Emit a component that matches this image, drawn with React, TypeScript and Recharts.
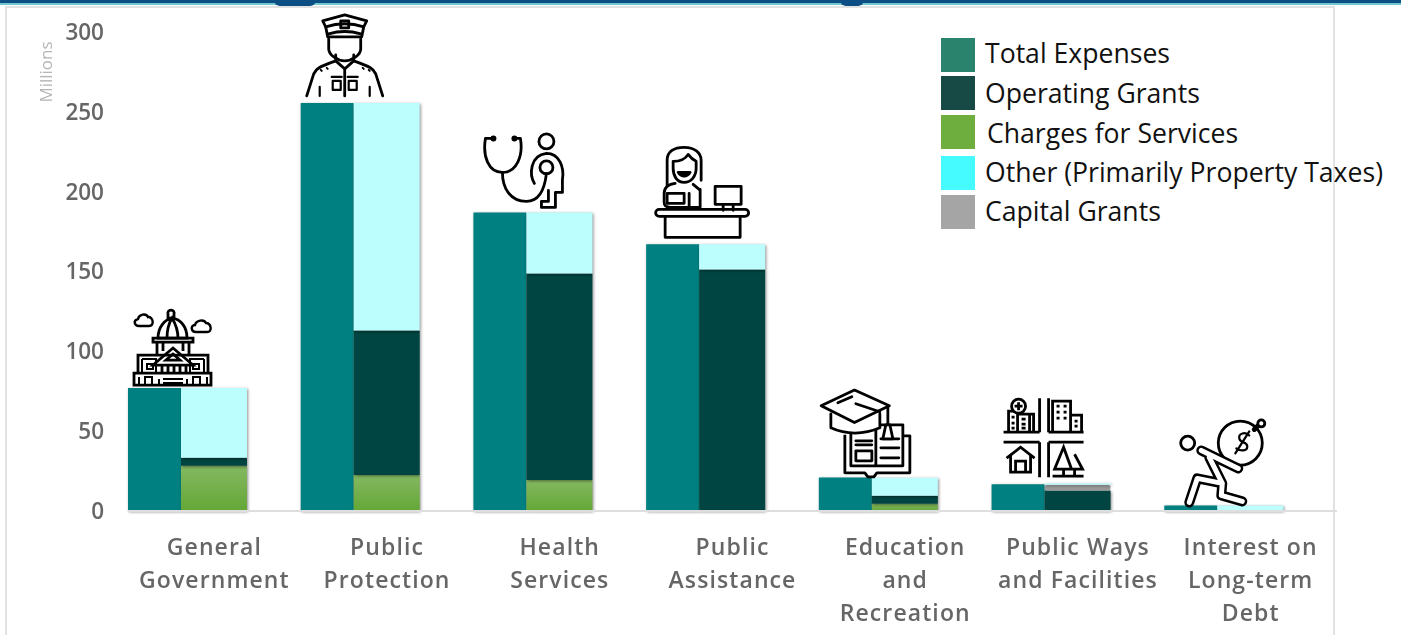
import { Bar, BarChart, LabelList, XAxis, YAxis } from 'recharts';

const categories = [
  'General\nGovernment',
  'Public\nProtection',
  'Health\nServices',
  'Public\nAssistance',
  'Education\nand\nRecreation',
  'Public Ways\nand Facilities',
  'Interest on\nLong-term\nDebt',
];
const totalExpenses = [77, 255.6, 187, 167, 21, 16.8, 3.5];
const chargesForServices = [28.3, 22.5, 19.4, 0, 4.5, 0.6, 0];
const operatingGrants = [5, 90.5, 129.4, 151.3, 5, 12.2, 0];
const capitalGrants = [0, 0, 0, 0, 0, 3.6, 0];
const otherRevenue = [43.7, 142.6, 38.2, 15.7, 11.3, 1, 3.5];
const yTicks = [0, 50, 100, 150, 200, 250, 300];

const legendNames = ['Total Expenses', 'Operating Grants', 'Charges for Services', 'Other (Primarily Property Taxes)', 'Capital Grants'];
const legendColors = ['#2a836d', '#174a45', '#6dae3f', '#46fbff', '#a5a5a5'];
const legendTops = [38, 76, 115, 156, 195];
const legendTextShift = [-2, 0, 1, -1, -1];

const data = categories.map((category, i) => ({
  category,
  total: totalExpenses[i],
  charges: chargesForServices[i],
  operating: operatingGrants[i],
  capital: capitalGrants[i],
  other: otherRevenue[i],
}));

const FONT = '"Open Sans", sans-serif';
const barShadow = { filter: 'drop-shadow(1px 1px 1.5px rgba(0,0,0,0.45))' };

const line = { fill: 'none', stroke: '#000', strokeWidth: 2.8, strokeLinecap: 'round', strokeLinejoin: 'round' } as const;

const CapitolIcon = () => (
  <g {...line} strokeLinecap="butt" strokeLinejoin="miter">
    <path d="M6 16c-5 0-6-6-1-7 1-5 8-6 10-2 5-1 7 9 1 9z" strokeWidth={2.4} />
    <path d="M63 22c-5 0-6-7-1-7 1-5 9-6 11-2 5 0 7 9 1 9z" strokeWidth={2.4} />
    <path d="M38 0a3 3 0 0 1 3 4v4h-6V4a3 3 0 0 1 3-4zM25 28c0-11 7-19 14-20 9 1 15 9 15 20zM34 28c0-8 2-15 5-20 3 5 6 12 6 20z" />
    <path d="M20 28h40v4H20zM24 32v13M30 32v9M50 32v9M56 32v13" />
    <path d="M5 45h70v18H5zM1 63h77v12H1z" />
    <path d="M20 55l20-17 20 17zM33 50l7-6 7 6z" />
    <path d="M9 49h14v14M9 49v14M14 54h6v5h-6zM71 49H57v14M71 49v14M60 54h6v5h-6z" strokeWidth={2} />
    <path d="M29 55v8M35 55v8M41 55v8M47 55v8M53 55v8" />
    <path d="M6 75v-8M12 75v-8h7v8M26 75v-6M30 69h20M30 73h20M54 75v-6M60 75v-8h7v8M74 75v-8" strokeWidth={2} />
  </g>
);

const PoliceIcon = () => (
  <g {...line} fill="none">
    <path d="M17 6L39 0l22 6-3 6-2 10H22l-2-10z" />
    <path d="M20 12c12-4 26-4 38 0M23 19c10-3 22-3 32 0" />
    <path d="M35 6h8v7h-8z" />
    <path d="M23 24v10c0 6 9 12 16 12s16-6 16-12V24" />
    <path d="M30 40v6l9 8 9-8v-6M1 81l7-22c2-5 5-7 22-13M77 81l-7-22c-2-5-5-7-22-13M39 54v27" />
    <path d="M14 72v9M64 72v9M27 66h8v9h-8zM43 66h8v9h-8zM26 62h10M42 62h10" strokeWidth={2.2} />
    <path d="M15 55l1 1M21 53l1 1M57 53l1 1M63 55l1 1" strokeWidth={2} />
  </g>
);

const HealthIcon = () => (
  <g {...line}>
    <circle cx={11} cy={6} r={1.6} fill="#000" />
    <circle cx={32} cy={6} r={1.6} fill="#000" />
    <path d="M10 6H3C0 24 6 40 20 40s21-16 18-34h-6" />
    <path d="M20 40c0 16 8 29 24 29 12 0 18-10 20-28" />
    <circle cx={64} cy={35} r={6.5} />
    <circle cx={64} cy={9} r={7.5} />
    <path d="M52 51c-5-8-5-28 12-30 13 0 18 14 16 26v13h-7v15H59v-6h7V58" />
  </g>
);

const ReceptionIcon = () => (
  <g {...line}>
    <path d="M10 40V14C10 5 17 1 27 1s17 5 17 13v20" />
    <path d="M16 15c6 0 12-2 15-7 3 4 6 6 8 7v7c0 8-5 14-12 14s-11-6-11-14z" />
    <path d="M21 26c3 5 9 5 12 0z" fill="#000" />
    <path d="M18 37c-7 1-11 4-11 10v9c0 3 2 5 6 5h30V43" />
    <path d="M10 47h17v10H10zM36 38l6 5M32 61V47" />
    <path d="M58 40h26v18H58zM66 58v6M76 58v6" />
    <path d="M2 63h86a3 3 0 0 1 0 7H2a3 3 0 0 1 0-7zM8 70v21h75V70" />
  </g>
);

const EducationIcon = () => (
  <g {...line}>
    <path d="M24 46v38h20l3 4h6l3-4h33V47h-7" strokeLinecap="butt" />
    <path d="M30 40v37h25V40M55 77V36h27v41z" strokeLinecap="butt" />
    <path d="M35 52h16M35 56h16M35 62h16v10H35zM60 50h18M60 59h18M60 69h18" />
    <path d="M10 25v14c15 7 33 7 49 0V25" fill="#fff" />
    <path d="M33.6 1.3L68.5 17 33.6 33.7.3 17z" fill="#fff" />
    <path d="M17 14l14-6M35 15l24 8M67 18v17" />
    <path d="M62 50l3-14h4l3 14z" fill="#fff" />
  </g>
);

const CityIcon = () => (
  <g {...line} strokeLinecap="butt" strokeLinejoin="miter">
    <path d="M0 35h36M45 35h35M0 45h36M45 45h35M36 1v34M45 1v34M36 45v35M45 45v35" />
    <path d="M5 35V14h8M26 35V17h4v18M14 35V17h12M8 20h3M8 26h3M8 31h3M18 22h4M18 27h4M18 31h4" />
    <circle cx={15} cy={9} r={7} fill="#fff" />
    <path d="M15 5v8M11 9h8" />
    <path d="M49 35V4h18v31M67 18h11v17M53 9h3M60 9h3M53 15h3M60 15h3M53 21h3M60 21h3M71 24h3M71 29h3" />
    <path d="M3 61l14-11 14 11M7 58v17h20V58M12 75V64h10v11" />
    <path d="M49 79h31M60 50l-9 22h17zM60 72v7M71 57l8 15H66M71 72v7" />
  </g>
);

const DebtIcon = () => (
  <g>
    <g {...line}>
      <circle cx={10.4} cy={24.7} r={7} />
      <circle cx={63} cy={24.7} r={22} />
      <circle cx={84} cy={5} r={3.5} />
      <path d="M77 11l3-3" strokeWidth={5} />
      <path d="M72 17c-4-4-11-2-10 3 1 5 8 3 8 8 0 5-7 5-11 2M58 35l14-22" strokeWidth={2.2} />
    </g>
    <path d="M24 32l37 18M32 39l13 26-25-5-8 24M45 65l-1 12 21 6" fill="none" stroke="#000" strokeWidth={10} strokeLinecap="round" strokeLinejoin="round" />
    <path d="M24 32l37 18M32 39l13 26-25-5-8 24M45 65l-1 12 21 6" fill="none" stroke="#fff" strokeWidth={5} strokeLinecap="round" strokeLinejoin="round" />
  </g>
);

// left edge relative to the stacked bar, height of each icon above its top
const icons = [
  { Icon: CapitolIcon, dx: -48, rise: 78 },
  { Icon: PoliceIcon, dx: -48, rise: 88 },
  { Icon: HealthIcon, dx: -44, rise: 80 },
  { Icon: ReceptionIcon, dx: -42, rise: 98 },
  { Icon: EducationIcon, dx: -51, rise: 89 },
  { Icon: CityIcon, dx: -41, rise: 86 },
  { Icon: DebtIcon, dx: -40, rise: 87 },
];

const renderIcon = (props: any) => {
  const item = icons[props.index];
  if (!item) return null;
  const { Icon, dx, rise } = item;
  return (
    <g transform={`translate(${props.x + dx},${props.y - rise})`}>
      <Icon />
    </g>
  );
};

const CategoryTick = ({ x, y, payload }: any) => (
  <text x={x} y={y} textAnchor="middle" fontFamily={FONT} fontSize={23} fontWeight={600} fill="#666" letterSpacing={1.1}>
    {String(payload.value)
      .split('\n')
      .map((part, i) => (
        <tspan key={part} x={x} y={y + 33 * i + 36}>
          {part}
        </tspan>
      ))}
  </text>
);

const MillionsLabel = () => (
  <text x={0} y={0} transform="translate(52,72) rotate(-90)" textAnchor="middle" fontFamily={FONT} fontSize={17} fill="#b5b5b5">
    Millions
  </text>
);

export default function App() {
  return (
    <div style={{ position: 'fixed', left: 0, top: 0, width: 1401, height: 635, overflow: 'hidden', background: '#fff', fontFamily: FONT }}>
      <div style={{ position: 'absolute', left: 0, top: 0, width: 1401, height: 3, background: '#0c4f85' }} />
      <div style={{ position: 'absolute', left: 0, top: 3, width: 1401, height: 2, background: '#6fc7cc' }} />
      <div style={{ position: 'absolute', left: 274, top: 0, width: 42, height: 6, background: '#0c4f85', borderRadius: '0 0 14px 14px' }} />
      <div style={{ position: 'absolute', left: 840, top: 0, width: 24, height: 6, background: '#0c4f85', borderRadius: '0 0 10px 10px' }} />
      <div style={{ position: 'absolute', left: 5, top: 6, width: 1326, height: 640, border: '2px solid #e2e2e2' }} />

      <div style={{ position: 'absolute', left: 0, top: 0, filter: 'blur(0.5px)' }}>
        <BarChart
          width={1401}
          height={635}
          data={data}
          margin={{ top: 32, right: 64, bottom: 0, left: 0 }}
          barCategoryGap={0}
          barGap={0}
        >
          <defs>
            <linearGradient id="chargesFill" x1="0" y1="0" x2="0" y2="1">
              <stop offset="0%" stopColor="#84b861" />
              <stop offset="100%" stopColor="#64a736" />
            </linearGradient>
          </defs>
          <XAxis
            dataKey="category"
            height={124}
            interval={0}
            axisLine={{ stroke: '#dedede', strokeWidth: 2 }}
            tickLine={false}
            tick={<CategoryTick />}
          />
          <YAxis
            width={128}
            domain={[0, 300]}
            ticks={yTicks}
            axisLine={false}
            tickLine={false}
            tickSize={0}
            tickMargin={24}
            tick={{ fontFamily: FONT, fontSize: 22.5, fontWeight: 600, fill: '#666' }}
            label={<MillionsLabel />}
          />
          <Bar dataKey="total" stackId="expenses" barSize={53} fill="#008080" style={barShadow} isAnimationActive={false} />
          <Bar dataKey="charges" stackId="revenue" barSize={66} fill="url(#chargesFill)" style={barShadow} isAnimationActive={false} />
          <Bar dataKey="operating" stackId="revenue" barSize={66} fill="#004541" style={barShadow} isAnimationActive={false} />
          <Bar dataKey="capital" stackId="revenue" barSize={66} fill="#9a9a9a" radius={3} isAnimationActive={false} />
          <Bar dataKey="other" stackId="revenue" barSize={66} fill="#bcfdfd" style={barShadow} isAnimationActive={false}>
            <LabelList dataKey="other" content={renderIcon} />
          </Bar>
          {/* empty slot so each pair sits at the left of its band, under-label offset as in the source */}
          <Bar dataKey={() => 0} stackId="spacer" barSize={53} fill="none" legendType="none" isAnimationActive={false} />
        </BarChart>
      </div>

      {legendNames.map((name, i) => (
        <div key={name} style={{ position: 'absolute', left: 941, top: legendTops[i], height: 34, display: 'flex', alignItems: 'center', whiteSpace: 'nowrap' }}>
          <span style={{ width: 34, height: 34, background: legendColors[i], display: 'block' }} />
          <span style={{ marginLeft: i === 2 ? 12 : 10, fontSize: 26.6, lineHeight: '34px', color: '#111', position: 'relative', top: legendTextShift[i] }}>{name}</span>
        </div>
      ))}
    </div>
  );
}
